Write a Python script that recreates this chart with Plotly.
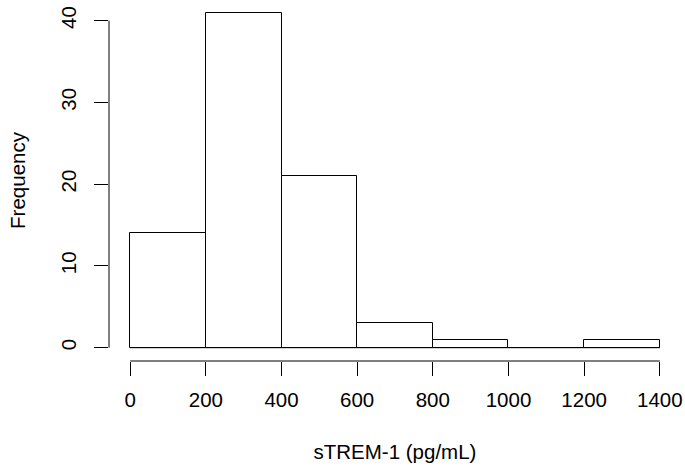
import plotly.graph_objects as go

# Histogram data
breaks = [0, 200, 400, 600, 800, 1000, 1200, 1400]
counts = [14, 41, 21, 3, 1, 0, 1]
x_ticks = [0, 200, 400, 600, 800, 1000, 1200, 1400]
y_ticks = [0, 10, 20, 30, 40]
x_title = "sTREM-1 (pg/mL)"
y_title = "Frequency"

centers = [(a + b) / 2 for a, b in zip(breaks[:-1], breaks[1:])]
widths = [b - a for a, b in zip(breaks[:-1], breaks[1:])]

FONT = "Liberation Sans, Arial, sans-serif"
FS = 20.5

fig = go.Figure(
    go.Bar(
        x=centers,
        y=counts,
        width=widths,
        marker=dict(color="white", line=dict(color="black", width=1)),
        hoverinfo="x+y",
    )
)

# R-style 4% range extension
xr = breaks[-1] - breaks[0]

fig.update_layout(
    width=685,
    height=468,
    margin=dict(l=109, r=4, t=0, b=107),
    paper_bgcolor="white",
    plot_bgcolor="white",
    showlegend=False,
    bargap=0,
    font=dict(family=FONT, size=FS, color="black"),
    xaxis=dict(
        range=[breaks[0] - 0.04 * xr, breaks[-1] + 0.04 * xr],
        tickmode="array",
        tickvals=x_ticks,
        ticktext=[str(v) for v in x_ticks],
        ticks="outside",
        ticklen=14,
        tickwidth=1,
        tickcolor="black",
        ticklabelstandoff=6,
        showgrid=False,
        zeroline=False,
        showline=False,
        title=dict(text=x_title, standoff=35, font=dict(size=FS)),
        automargin=False,
        tickfont=dict(size=FS),
    ),
    yaxis=dict(
        range=[-1.63, 42.53],
        tickmode="array",
        tickvals=y_ticks,
        ticktext=[str(v) for v in y_ticks],
        tickangle=-90,
        ticks="outside",
        ticklen=14,
        tickwidth=1,
        tickcolor="black",
        ticklabelstandoff=10,
        showgrid=False,
        zeroline=False,
        showline=False,
        title=dict(text=y_title, standoff=25, font=dict(size=FS)),
        automargin=False,
        tickfont=dict(size=FS),
    ),
)

# R-style axis lines spanning only first to last tick
fig.add_shape(type="line", xref="x", yref="paper", x0=x_ticks[0], x1=x_ticks[-1],
              y0=0, y1=0, line=dict(color="black", width=1))
fig.add_shape(type="line", xref="paper", yref="y", x0=0, x1=0,
              y0=y_ticks[0], y1=y_ticks[-1], line=dict(color="black", width=1))
# baseline of histogram (covers empty bins)
fig.add_shape(type="line", xref="x", yref="y", x0=breaks[0], x1=breaks[-1],
              y0=0, y1=0, line=dict(color="black", width=1))

fig.write_html("out.html", config={"displayModeBar": False},
               post_script="document.body.style.margin='0';")
